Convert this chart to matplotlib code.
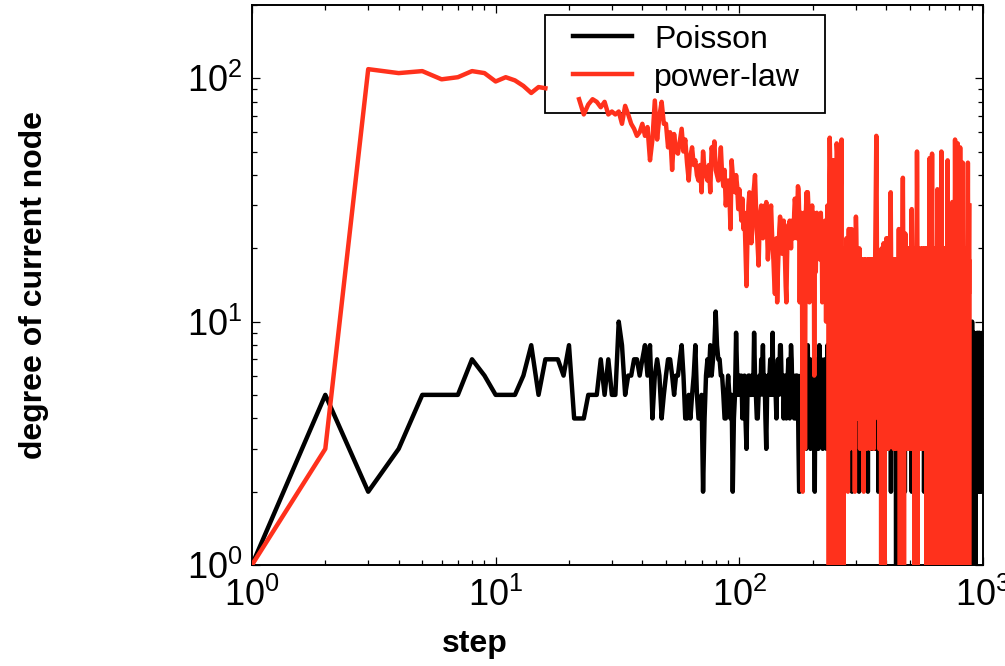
import numpy as np
import matplotlib
matplotlib.use("Agg")
import matplotlib.pyplot as plt
from matplotlib import ticker
from matplotlib.patches import Rectangle

plt.rcParams['font.family'] = ['Liberation Sans', 'DejaVu Sans']
plt.rcParams['mathtext.fontset'] = 'custom'
plt.rcParams['mathtext.rm'] = 'Liberation Sans'
plt.rcParams['mathtext.it'] = 'Liberation Sans'

nan = np.nan

# degree of the node visited at each step (step = 1, 2, 3, ...)
poisson_deg = [
    1, 5, 2, 3, 5, 5, 5, 7, 6, 5, 5, 5, 6, 8, 5, 7, 7, 7, 6, 8,
    4, 4, 4, 5, 5, 5, 7, 5, 7, 5, 5, 10, 8, 5, 6, 6, 7, 7, 6, 7,
    8, 6, 8, 4, 6, 7, 6, 4, 5, 6, 7, 7, 6, 5, 6, 6, 7, 8, 6, 4,
    4, 5, 4, 5, 6, 8, 5, 4, 4, 5, 2, 4, 6, 7, 6, 8, 6, 7, 8, 11,
    8, 7, 7, 6, 6, 5, 4, 4, 5, 6, 5, 4, 5, 2, 4, 5, 9, 6, 5, 6,
    5, 6, 4, 5, 6, 4, 3, 5, 6, 6, 5, 5, 6, 5, 9, 6, 5, 4, 4, 5,
    6, 5, 7, 6, 8, 5, 6, 4, 3, 5, 6, 5, 6, 7, 5, 6, 9, 5, 6, 5,
    5, 4, 6, 7, 5, 6, 8, 8, 6, 5, 6, 4, 5, 6, 5, 4, 5, 6, 7, 6,
    4, 6, 8, 7, 5, 6, 5, 4, 5, 6, 4, 5, 6, 5, 3, 2, 2, 4, 6, 5,
    6, 8,
    5, 6, 4, 7, 5, 3, 6, 5, 8, 4, 6, 5, 7, 3, 5, 6, 4, 5, 7, 6,
    4, 2, 5, 6, 7, 5, 4, 6, 3, 5, 8, 6, 5, 4, 7, 5, 6, 3, 4, 6,
    5, 7, 4, 6, 5, 3, 6, 8, 5, 4, 6, 2, 5, 7, 6, 4, 5, 6, 3, 7,
    6, 4, 5, 8, 5, 3, 6, 4, 7, 5, 6, 4, 2, 6, 5, 7, 4, 5, 6, 3,
    5, 6, 4, 7, 6, 5, 3, 4, 6, 8, 5, 4, 6, 5, 3, 7, 5, 6, 4, 5,
    6, 3, 5, 7, 4, 6, 5, 2, 6, 4, 5, 7, 6, 3, 5, 4, 6, 8, 5, 4,
    7, 5, 3, 6, 4, 5, 6, 2, 5, 7, 4, 6, 5, 3, 6, 5, 4, 7, 6, 5,
    4, 6, 3, 5, 8, 6, 4, 5, 7, 3, 5, 6, 4, 6, 2, 5, 7, 4, 6, 5,
    3, 6, 5, 4, 7, 5, 6, 4, 3, 6, 5, 8, 4, 5, 6, 3, 7, 5, 4, 6,
    5, 4, 6, 7, 3, 5, 6, 4, 5, 2, 6, 5, 7, 4, 6, 5, 3, 6, 4, 5,
    7, 6, 4, 5, 3, 6, 5, 7, 4, 6, 5, 2, 6, 4, 5, 8, 6, 3, 5, 4,
    6, 5, 7, 4, 3, 6, 5, 4, 6, 7, 5, 3, 6, 4, 5, 6, 2, 5, 7, 4,
    6, 5, 3, 6, 4, 7, 5, 6, 4, 3, 5, 6, 7, 4, 5, 6, 3, 1, 5, 6,
    4, 6, 5, 7, 3, 5, 4, 6, 5, 2, 6, 7, 4, 5, 6, 3, 5, 4, 6, 8,
    5, 4, 6, 3, 5, 7, 6, 4, 5, 6, 3, 5, 4, 7, 6, 2, 5, 6, 4, 5,
    6, 3, 5, 7, 4, 6, 5, 4, 6, 3, 5, 6, 7, 4, 5, 3, 6, 5, 4, 6,
    7, 5, 3, 6, 4, 5, 6, 2, 5, 4, 6, 7, 5, 3, 6, 5, 4, 6, 3, 5,
    6, 4, 7, 5, 3, 6, 5, 4, 6, 5, 2, 6, 4, 7, 5, 3, 6, 5, 4, 6,
    5, 7, 4, 6, 3, 5, 6, 4, 5, 8, 6, 3, 5, 4, 6, 5, 7, 4, 3, 6,
    5, 4, 6, 5, 3, 7, 6, 4, 5, 6, 2, 5, 4, 6, 7, 3, 5, 6, 4, 5,
    6, 3, 5, 4, 7, 6, 5, 3, 6, 4, 5, 6, 2, 5, 7, 4, 6, 5, 3, 6,
    4, 5, 6, 7, 3, 5, 4, 6, 5, 3, 6, 4, 5, 7, 6, 2, 5, 4, 6, 5,
    3, 6, 5, 4, 7, 5, 6, 3, 4, 6, 5, 4, 6, 3, 5, 7, 4, 6, 5, 2,
    6, 4, 5, 6, 3, 7, 5, 4, 6, 5, 3, 6, 4, 5, 6, 7, 3, 5, 4, 6,
    5, 3, 6, 4, 5, 7, 6, 2, 5, 4, 6, 5, 3, 6, 7, 4, 5, 6, 3, 5,
    4, 6, 5, 3, 6, 4, 7, 5, 6, 3, 5, 4, 6, 5, 2, 6, 4, 5, 7, 6,
    3, 5, 4, 6, 5, 3, 6, 7, 4, 5, 6, 4, 3, 5, 6, 2, 5, 4, 6, 7,
    5, 3, 6, 4, 5, 6, 3, 5, 7, 4, 6, 5, 3, 6, 4, 5, 2, 6, 5, 4,
    6, 7, 3, 5, 4, 6, 5, 3, 6, 4, 5, 1, 6, 4, 5, 7, 3, 5, 6, 4,
    5, 6, 3, 4, 6, 5, 2, 6, 4, 5, 7, 3, 5, 6, 4, 5, 3, 6, 4, 7,
    5, 6, 3, 5, 4, 6, 5, 2, 6, 4, 5, 3, 7, 5, 6, 4, 3, 5, 6, 4,
    6, 5, 3, 4, 6, 7, 5, 3, 5, 6, 4, 5, 2, 6, 4, 5, 6, 3, 5, 7,
    4, 6, 5, 3, 6, 4, 5, 7, 3, 5, 6, 4, 5, 2, 6, 5, 4, 6, 3, 5,
    6, 4, 5, 7, 3, 6, 5, 4, 6, 3, 5, 4, 6, 7, 5, 2, 6, 4, 5, 6,
    3, 5, 7, 4, 6, 5, 3, 6, 4, 8, 5, 6, 3, 5, 7, 4, 6, 2, 5, 6,
    4, 7, 5, 3, 6, 8, 4, 5, 6, 3, 7, 5, 4, 9, 6, 3, 5, 8, 4, 10,
    6, 5, 1, 4, 7, 3, 6, 8, 5, 2, 6, 4, 7, 5, 3, 9, 6, 4, 5, 2,
    6, 7, 3, 5, 8, 4, 6, 1, 5, 3, 7, 6, 4, 5, 2, 6, 8, 5, 3, 6,
    4, 7, 5, 3, 6, 9, 4, 5, 2, 6, 7, 4, 5, 3, 8, 6, 4, 5, 2, 7,
    5, 6, 3, 9, 4, 6, 5, 2, 7, 4, 6, 3, 5, 8, 4, 6, 3, 5, 7, 4,
    6, 5, 3, 8, 4, 6, 2, 5, 7, 4, 6, 3, 5, 9, 4, 6, 5, 3,
]

powerlaw_deg = [
    1, 3, 109, 105, 107, 99, 101, 107, 105, 97, 101, 98, 93, 87, 92, 91,
    nan, nan, nan, nan, nan,
    82, 71, 78, 82, 80, 76, 80, 71, 73, 71, 73, 65, 77, 71, 65, 62, 58, 60, 65,
    58, 63, 46, 56, 81, 56, 70, 80, 65, 65, 52, 60, 42, 59, 50, 49, 55, 62, 50, 56,
    45, 38, 48, 52, 44, 46, 40, 38, 44, 34, 50, 42, 40, 38, 44, 34, 52, 48, 55, 42,
    40, 38, 44, 52, 40, 36, 42, 30, 35, 38, 34, 24, 46, 40, 36, 34, 40, 36, 29, 35,
    30, 26, 32, 24, 28, 20, 14, 22, 30, 34, 26, 21, 24, 33, 36, 40, 30, 24, 20, 17,
    24, 28, 30, 26, 22, 28, 30, 26, 31, 24, 18, 22, 26, 28, 30, 24, 20, 18, 15, 13,
    18, 22, 12, 16, 20, 24, 27, 22, 20, 19, 24, 26, 22, 18, 14, 12, 18, 24, 25, 22,
    26, 24, 20, 25, 26, 23, 22, 28, 32, 30, 26, 22, 28, 36, 35, 28, 12, 24, 28, 22,
    12, 2, 22, 28, 26, 3, 24, 30, 34, 28, 34, 30, 24, 12, 16, 22, 25, 28, 30, 26,
    24, 28, 6, 22, 20, 16, 24, 28, 22, 26, 20, 24, 22, 18, 26, 28, 24, 22, 12, 20,
    22, 24, 18, 23, 26, 20, 10, 22, 24, 30,
    22, 30, 1, 40, 57, 44, 1, 20, 30, 1, 26, 46, 38, 1, 46, 30, 1, 24, 36, 1,
    54, 50, 1, 30, 1, 22, 1, 28, 44, 1, 36, 50, 56, 1, 20, 1, 14, 1, 8, 3,
    20, 15, 6, 18, 22, 4, 15, 20, 2, 18, 24, 24, 3, 22, 22, 22, 4, 20, 24, 22,
    10, 18, 22, 3, 15, 20, 13, 2, 18, 22, 27, 24, 18, 6, 15, 20, 4, 18, 15, 10,
    20, 15, 3, 13, 18, 16, 6, 18, 15, 4, 13, 18, 6, 2, 10, 15, 18, 5, 13, 18,
    15, 10, 3, 13, 16, 18, 6, 15, 18, 4, 15, 18, 10, 3, 13, 18, 15, 5, 18, 13,
    16, 4, 15, 18, 10, 3, 15, 18, 13, 5, 18, 24, 30, 45, 58, 38, 20, 10, 18, 15,
    4, 13, 18, 15, 3, 18, 16, 10, 15, 19, 13, 1, 18, 20, 3, 15, 1, 19, 13, 6,
    21, 15, 4, 19, 1, 13, 18, 5, 15, 19, 22, 13, 4, 18, 20, 6, 15, 22, 3, 13,
    18, 10, 20, 15, 5, 22, 24, 34, 24, 15, 6, 18, 13, 15, 4, 15, 10, 18, 15, 3,
    13, 18, 10, 16, 5, 15, 18, 11, 3, 15, 18, 13, 5, 16, 15, 10, 18, 4, 15, 20,
    24, 24, 18, 10, 15, 1, 13, 20, 1, 15, 18, 10, 1, 20, 15, 1, 24, 30, 39, 24,
    18, 6, 15, 1, 18, 13, 4, 20, 15, 23, 18, 6, 15, 20, 3, 18, 13, 15, 4, 20,
    15, 10, 18, 3, 15, 20, 13, 5, 18, 15, 10, 18, 4, 15, 20, 13, 3, 18, 22, 29,
    20, 13, 15, 4, 18, 15, 10, 20, 3, 15, 18, 13, 1, 15, 20, 5, 18, 1, 13, 18,
    15, 1, 20, 24, 30, 50, 36, 20, 1, 15, 18, 10, 15, 4, 18, 15, 13, 3, 15, 18,
    10, 18, 15, 4, 20, 13, 15, 3, 18, 15, 13, 18, 4, 15, 20, 10, 18, 15, 3, 18,
    13, 15, 6, 20, 18, 13, 4, 15, 18, 10, 15, 18, 3, 20, 15, 13, 1, 18, 15, 10,
    20, 1, 15, 18, 5, 15, 20, 13, 3, 18, 15, 24, 30, 47, 24, 15, 4, 18, 15, 10,
    20, 13, 3, 18, 15, 24, 34, 49, 22, 15, 1, 18, 15, 6, 20, 1, 15, 18, 13, 4,
    20, 15, 1, 18, 13, 15, 3, 20, 1, 18, 15, 10, 18, 1, 15, 20, 4, 18, 24, 35,
    22, 13, 1, 18, 15, 6, 20, 1, 15, 18, 10, 18, 3, 15, 20, 1, 18, 15, 13, 4,
    20, 15, 24, 30, 50, 36, 18, 1, 15, 20, 13, 4, 18, 15, 10, 20, 3, 15, 18, 13,
    6, 18, 15, 3, 20, 13, 15, 4, 18, 15, 10, 18, 1, 15, 20, 13, 1, 18, 15, 6,
    20, 1, 15, 24, 30, 46, 28, 15, 1, 18, 15, 10, 20, 1, 15, 18, 4, 15, 20, 1,
    18, 13, 15, 3, 18, 15, 1, 20, 13, 15, 4, 18, 15, 10, 20, 18, 24, 31, 22, 15,
    3, 18, 15, 13, 4, 20, 15, 10, 18, 3, 15, 20, 13, 4, 18, 24, 34, 56, 40, 20,
    15, 1, 18, 15, 10, 20, 1, 15, 18, 13, 1, 20, 15, 1, 18, 24, 36, 54, 30, 18,
    1, 15, 20, 1, 18, 15, 1, 20, 13, 18, 1, 15, 18, 24, 34, 52, 30, 15, 1, 20,
    15, 1, 18, 13, 20, 1, 15, 18, 1, 20, 15, 1, 18, 24, 30, 45, 24, 15, 1, 20,
    15, 10, 1, 18, 15, 20, 1, 15, 18, 13, 1, 20, 15, 3, 18, 1, 15, 20, 10, 1,
    18, 15, 1, 20, 13, 18, 1, 15, 20, 13, 18, 15, 1, 20, 24, 40, 45, 30, 20, 1,
    15, 18, 1, 20, 13, 18, 1, 15, 20, 30,
]

series_labels = ["Poisson", "power-law"]
series_colors = ["black", "#ff311c"]

poisson_steps = np.arange(1, len(poisson_deg) + 1)
powerlaw_steps = np.arange(1, len(powerlaw_deg) + 1)

fig = plt.figure(figsize=(10.05, 6.66), dpi=100)
ax = fig.add_axes([0.2507, 0.1517, 0.7274, 0.8408])

ax.plot(poisson_steps, np.array(poisson_deg, dtype=float), color=series_colors[0],
        lw=3.2, label=series_labels[0], zorder=3)
ax.plot(powerlaw_steps, np.array(powerlaw_deg, dtype=float), color=series_colors[1],
        lw=3.2, label=series_labels[1], zorder=4)

ax.set_xscale('log')
ax.set_yscale('log')
ax.set_xlim(1, 1000)
ax.set_ylim(1, 200)

ax.xaxis.set_major_locator(ticker.LogLocator(base=10, numticks=10))
ax.yaxis.set_major_locator(ticker.LogLocator(base=10, numticks=10))
ax.xaxis.set_major_formatter(ticker.LogFormatterMathtext())
ax.yaxis.set_major_formatter(ticker.LogFormatterMathtext())
ax.xaxis.set_minor_formatter(ticker.NullFormatter())
ax.yaxis.set_minor_formatter(ticker.NullFormatter())

ax.tick_params(which='both', direction='in', top=True, right=True, width=0.9)
ax.tick_params(which='major', length=5.5)
ax.tick_params(which='minor', length=3.5)
ax.tick_params(axis='x', which='major', labelsize=26, pad=9)
ax.tick_params(axis='y', which='major', labelsize=26, pad=7)
for s in ax.spines.values():
    s.set_linewidth(1.4)

ax.set_xlabel("step", fontsize=23, fontweight='bold')
ax.xaxis.set_label_coords(0.305, -0.115)
ax.set_ylabel("degree of current node", fontsize=23, fontweight='bold')
ax.yaxis.set_label_coords(-0.278, 0.5)

# legend frame sits under the lines, as in the original
ax.add_patch(Rectangle((0.4008, 0.807), 0.383, 0.175, transform=ax.transAxes,
                       facecolor='white', edgecolor='black', lw=1.3, zorder=2))
leg = ax.legend(loc='upper left', bbox_to_anchor=(0.4391, 0.965), frameon=False,
                fontsize=23, borderpad=0, borderaxespad=0, handlelength=1.85,
                handletextpad=0.7, labelspacing=0.25)
for line in leg.get_lines():
    line.set_linewidth(3.2)
leg.set_zorder(5)

fig.savefig("out.png", dpi=100)
